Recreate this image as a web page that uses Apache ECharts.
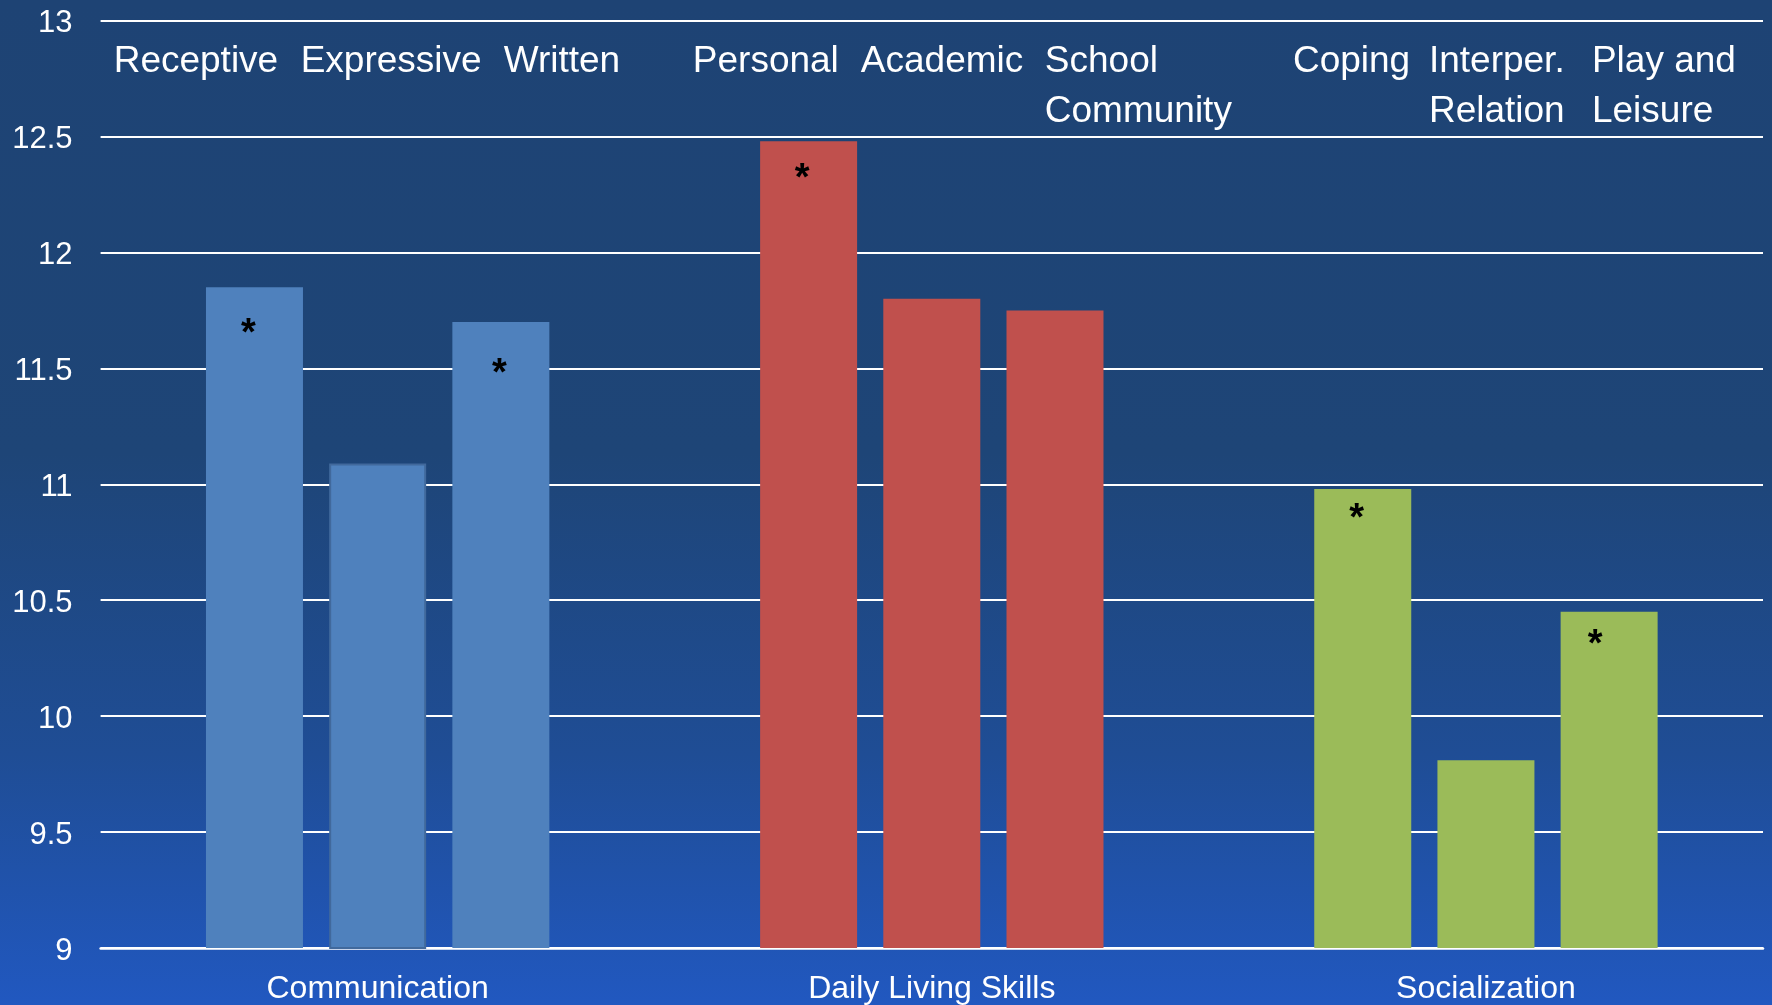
<!DOCTYPE html>
<html><head><meta charset="utf-8">
<script src="https://cdn.jsdelivr.net/npm/echarts@6/dist/echarts.min.js"></script>
<style>html,body{margin:0;padding:0;width:1772px;height:1005px;overflow:hidden;background:#1F4A8A}
#c{width:1772px;height:1005px}</style></head><body><div id="c"></div>
<script>
// ---- data ----
const categories = ['Communication', 'Daily Living Skills', 'Socialization'];
const subscaleLabels = [
  ['Receptive', 'Expressive', 'Written'],
  ['Personal', 'Academic', 'School\nCommunity'],
  ['Coping', 'Interper.\nRelation', 'Play and\nLeisure']
];
const communication = [11.85, 11.09, 11.70];
const dailyLivingSkills = [12.48, 11.80, 11.75];
const socialization = [10.98, 9.81, 10.45];
const significant = [[true, false, true], [true, false, false], [true, false, true]];
const yMin = 9, yMax = 13, yInterval = 0.5;

// ---- style ----
const domainValues = [communication, dailyLivingSkills, socialization];
const domainColors = ['#4F81BD', '#C0504D', '#9BBB59'];
const FONT = '"Liberation Sans", Arial, sans-serif';
const STAR_SIZE = 38;
const starDy = [[39, 0, 44], [30, 0, 0], [22, 0, 25]];
const starDx = [[-6, 0, -1.5], [-6.5, 0, 0], [-6, 0, -14]];
const labelDx = [[-264, -77, 126], [-239, -71, 113], [-193, -57, 106]];

const chart = echarts.init(document.getElementById('c'), null, {renderer: 'canvas'});

const series = [0, 1, 2].map(i => ({
  type: 'bar',
  barWidth: 97,
  barGap: '27%',
  animation: false,
  data: categories.map((c, g) => ({
    value: domainValues[g][i],
    itemStyle: Object.assign({color: domainColors[g]},
      (g === 0 && i === 1) ? {borderColor: '#41699C', borderWidth: 2} : {}),
    label: {
      show: significant[g][i],
      formatter: '*',
      position: ['50%', starDy[g][i] + STAR_SIZE * 0.22],
      offset: [starDx[g][i], 0],
      align: 'center',
      verticalAlign: 'middle',
      color: '#000',
      fontSize: STAR_SIZE,
      fontWeight: 'bold',
      fontFamily: FONT
    }
  }))
}));

const option = {
  backgroundColor: new echarts.graphic.LinearGradient(0, 0, 0, 1, [
    {offset: 0, color: '#1E4374'},
    {offset: 0.45, color: '#1E4577'},
    {offset: 0.75, color: '#1F4D95'},
    {offset: 1, color: '#2158C0'}
  ]),
  animation: false,
  grid: {left: 100.6, right: 9, top: 20.6, bottom: 54, containLabel: false},
  xAxis: {
    type: 'category',
    data: categories,
    axisLine: {show: true, lineStyle: {color: '#FFFFFF', width: 2.5}},
    axisTick: {show: false},
    axisLabel: {color: '#FFFFFF', fontSize: 32, fontFamily: FONT, margin: 25}
  },
  yAxis: {
    type: 'value',
    min: yMin, max: yMax, interval: yInterval,
    axisLine: {show: false},
    axisTick: {show: false},
    axisLabel: {
      margin: 28,
      formatter: v => '{n|' + v + '}',
      rich: {n: {color: '#FFFFFF', fontSize: 31, fontFamily: FONT, padding: [6, 0, 0, 0]}}
    },
    splitLine: {lineStyle: {color: '#FFFFFF', width: 2}}
  },
  series: series
};
chart.setOption(option);

// subscale labels across the top, anchored to category centres
const yTop = chart.convertToPixel({yAxisIndex: 0}, yMax);
const texts = [];
categories.forEach((c, g) => {
  const cx = chart.convertToPixel({xAxisIndex: 0}, c);
  subscaleLabels[g].forEach((t, i) => {
    texts.push({
      type: 'text',
      x: cx + labelDx[g][i],
      y: yTop + 16,
      style: {
        text: t,
        fill: '#FFFFFF',
        fontSize: 37,
        fontFamily: FONT,
        lineHeight: 50,
        align: 'left',
        verticalAlign: 'top'
      },
      silent: true
    });
  });
});
chart.setOption({graphic: texts});
</script></body></html>
